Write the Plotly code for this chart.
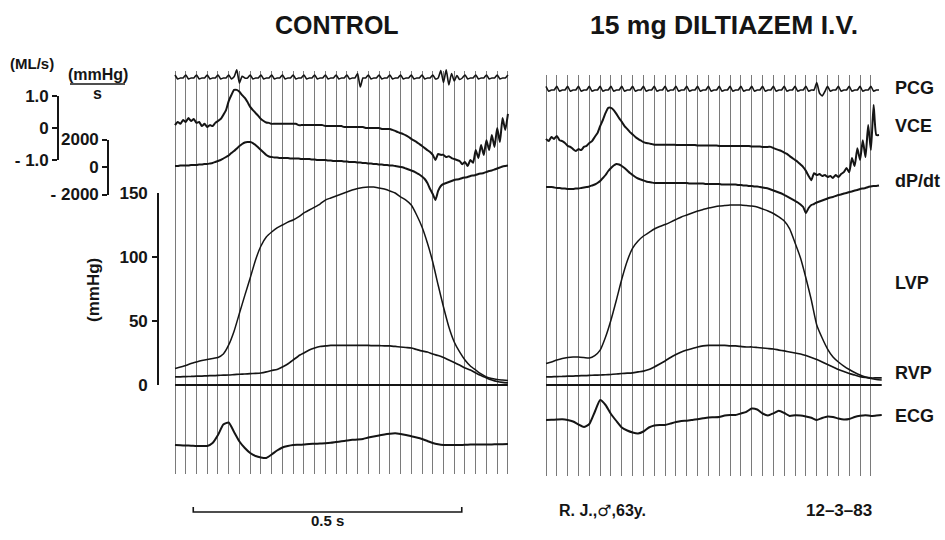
import numpy as np
import plotly.graph_objects as go

W, H = 945, 540

# ---------------- time bases (s) ----------------
t_fast_left = np.round(np.arange(125) * 0.005, 3)
t_fast_right = np.round(np.arange(124) * 0.005, 3)
t_slow = np.round(np.arange(63) * 0.01, 2)

# ---------------- CONTROL panel ----------------
ctrl_pcg = [1.0, -0.3, 0, 0, 1.0, -0.3, 0, 0, 1.0, -0.3, 0, 0, 1.0, -0.3, 0, 0, 1.0, -0.3, 0, 0,
            1.0, -0.3, 0.4, 2.7, -1.7, 0.6, 0, 0, 1.0, -0.3, 0, 0, 1.0, -0.3, 0, 0, 1.0, -0.3, 0, 0,
            1.0, -0.3, 0, 0, 1.0, -0.3, 0, 0, 1.0, -0.3, 0, 0, 1.0, -0.3, 0, 0, 1.0, -0.3, 0, 0,
            1.0, -0.3, 0, 0, 1.0, -0.3, 0, 0, 1.5, -3.0, 0, 0, 1.0, -0.3, 0, 0, 1.0, -0.3, 0, 0,
            1.0, -0.3, 0, 0, 1.0, -0.3, 0, 0, 1.0, -0.3, 0, 0, 1.0, -0.3, 0, 0, 1.0, -0.3, 0, 2.5,
            -1.5, 2.7, -2.3, 1.5, -1.0, 0.8, -0.5, 0, 1.0, -0.3, 0, 0, 1.0, -0.3, 0, 0, 1.0, -0.3, 0, 0,
            1.0, -0.3, 0, 0, 1.0]
ctrl_vce = [0.09, 0.19, 0.13, 0.25, 0.19, 0.31, 0.22, 0.28, 0.16, 0.19, 0.06, 0.13, 0.03, 0.09, 0.06, 0.16, 0.22, 0.28,
            0.41, 0.56, 0.84, 1.03, 1.19, 1.19, 1.13, 1.03, 0.94, 0.81, 0.66, 0.56, 0.47, 0.38, 0.28, 0.22, 0.17, 0.16,
            0.13, 0.13, 0.13, 0.13, 0.13, 0.13, 0.13, 0.13, 0.13, 0.13,
            0.09, 0.09, 0.09, 0.09, 0.09, 0.09, 0.09, 0.09, 0.09, 0.09,
            0.06, 0.06, 0.06, 0.06, 0.06, 0.06, 0.06,
            0.03, 0.03, 0.03, 0.03, 0.03, 0.03, 0.03, 0.03,
            0.0, 0.0, 0.0, 0.0, 0.0, 0.0,
            -0.03, -0.03, -0.03, -0.03,
            -0.06, -0.09, -0.13, -0.16, -0.19, -0.23, -0.28, -0.34, -0.39,
            -0.44, -0.5, -0.56, -0.63, -0.69, -0.75, -0.84, -1.0,
            -0.81, -0.84, -0.84, -0.91, -0.88, -0.94, -0.97, -1.0, -1.03, -1.13, -1.06, -1.19, -1.0, -1.09,
            -0.69, -0.94, -0.53, -0.84, -0.38, -0.69, -0.22, -0.59, 0.0, -0.44, 0.31, -0.06, 0.44]
ctrl_dpdt = [73, 73, 109, 109, 109, 109, 145, 145, 145, 182, 182, 218, 218, 254, 291, 364, 436, 509, 618, 727,
             836, 1018, 1163, 1345, 1527, 1672, 1781, 1818, 1818, 1745, 1599, 1418, 1236, 1054, 872, 763, 727, 691, 691, 654,
             654, 654, 654, 618, 618, 618, 618, 582, 582, 582, 582, 545, 545, 509, 509, 509, 509, 473, 473, 436,
             436, 436, 436, 400, 400, 364, 364, 364, 327, 327, 291, 291, 254, 254, 218, 218, 182, 182, 145, 145,
             109, 109, 73, 36, 0, -36, -109, -182, -254, -327, -436, -545, -691, -872, -1163, -1599, -1963, -2400, -1745, -1381,
             -1236, -1163, -1090, -1018, -945, -909, -872, -800, -763, -727, -654, -618, -582, -509, -473, -436, -364, -291, -254, -182,
             -109, -36, 36, 73, 109]
ctrl_lvp = [12.9, 14, 15.2, 16.8, 18, 19.1, 19.9, 20.7, 21.5, 24.2,
            31.3, 42, 56, 70, 83.6, 97.7, 108.6, 115.6, 119.5, 122.7,
            125, 127.3, 128.9, 131.3, 134.4, 136.7, 139, 141.4, 144.5, 146.1,
            147.7, 149.2, 150.8, 152.3, 153.5, 154.3, 154.7, 154.7, 153.9, 153.1,
            151.6, 150, 146.9, 144.5, 140.6, 132.8, 123.4, 110.9, 96.1, 78.1,
            60.9, 45.3, 33.6, 25.8, 19.5, 14.8, 11.7, 8.6, 6.3, 5.1,
            4.3, 3.9, 3.5]
ctrl_rvp = [6.3, 6.4, 6.6, 6.7, 6.9, 7.0, 7.2, 7.3, 7.5, 7.7, 7.8, 8.1, 8.4, 8.6, 8.9, 9.1, 9.4,
            10.2, 11.3, 12.1, 14.1, 16.4, 19.5, 22.7, 25, 27.3, 28.9, 30.1, 30.5, 30.9,
            30.9, 30.9, 30.9, 30.9, 30.9, 30.9, 30.9, 30.7, 30.7, 30.6, 30.5,
            30.1, 29.7, 29.3, 28.9, 27.7, 26.6, 25.8, 24.2, 23, 21.5, 19.5, 17.6, 15.6, 13.3, 11.7, 9.4, 7.4, 5.5, 3.9, 2.7, 2, 1.6]
ctrl_ecg = [0, -0.03, -0.05, -0.07, -0.1, -0.1, -0.1,
            0.2, 1.0, 2.05, 2.25, 1.3, 0.35, -0.3, -0.8, -1.1, -1.25, -1.3, -0.95, -0.55, -0.25, -0.1, 0,
            0.02, 0.05, 0.1, 0.12, 0.15, 0.17, 0.22, 0.3, 0.37, 0.45, 0.52, 0.55, 0.6, 0.75, 0.85, 0.95, 1.05, 1.12, 1.17,
            1.1, 1.0, 0.87, 0.75, 0.6, 0.4, 0.2, 0.07, 0,
            0, 0, 0, 0.02, 0.04, 0.05, 0.05, 0.05, 0.06, 0.07, 0.08, 0.1]

# ---------------- 15 mg DILTIAZEM panel ----------------
dilt_pcg = [-2.8, -4.4, -4, -4, -2.8, -4.4, -4, -4, -2.8, -4.4, -4, -4, -2.8, -4.4, -4, -4, -2.8, -4.4, -4, -4,
            -2.8, -4.4, -4, -4, -2.8, -4.4, -4, -4, -2.8, -4.4, -4, -4, -2.8, -4.4, -4, -4, -2.8, -4.4, -4, -4,
            -2.8, -4.4, -4, -4, -2.8, -4.4, -4, -4, -2.8, -4.4, -4, -4, -2.8, -4.4, -4, -4, -2.8, -4.4, -4, -4,
            -2.8, -4.4, -4, -4, -2.8, -4.4, -4, -4, -2.8, -4.4, -4, -4, -2.8, -4.4, -4, -4, -2.8, -4.4, -4, -4,
            -2.8, -4.4, -4, -4, -2.8, -4.4, -4, -4, -2.8, -4.4, -4, -4, -2.8, -4.4, -4, -4, -2.8, -4.4, -4, -4,
            -1.5, -5.0, -6.0, -4.5, -2.8, -4.4, -4, -4, -2.8, -4.4, -4, -4, -2.8, -4.4, -4, -4, -2.8, -4.4, -4, -4,
            -2.8, -4.4, -4, -4]
dilt_vce = [-0.34, -0.41, -0.28, -0.34, -0.25, -0.38, -0.41, -0.47, -0.56, -0.59, -0.66, -0.72, -0.66, -0.69, -0.59, -0.56, -0.47, -0.41, -0.28, -0.16,
            0.06, 0.25, 0.47, 0.63, 0.63, 0.56, 0.44, 0.31, 0.19, 0.06, -0.03, -0.13, -0.2, -0.28, -0.34, -0.39, -0.44, -0.47, -0.48, -0.5,
            -0.52, -0.52, -0.52, -0.52, -0.52, -0.52, -0.52, -0.52,
            -0.53, -0.53, -0.53, -0.53, -0.53, -0.53, -0.53, -0.53,
            -0.55, -0.55, -0.55, -0.55, -0.55, -0.55, -0.55, -0.55,
            -0.56, -0.56, -0.56, -0.56, -0.56, -0.56, -0.56, -0.56, -0.56, -0.56, -0.56, -0.56,
            -0.58, -0.58, -0.58, -0.58,
            -0.59, -0.59, -0.59, -0.59,
            -0.63, -0.66, -0.69, -0.72, -0.77, -0.81, -0.88, -0.94, -1.0, -1.06, -1.14, -1.22, -1.34, -1.5, -1.63,
            -1.41, -1.47, -1.44, -1.5, -1.47, -1.53, -1.5, -1.56, -1.47, -1.53, -1.44, -1.38, -1.25,
            -1.38, -0.94, -1.19, -0.63, -1.0, -0.38, -0.91, 0.09, -0.69, 0.72, -0.22, -0.22]
dilt_dpdt = [-1454, -1454, -1454, -1490, -1527, -1527, -1563, -1563, -1599, -1599, -1599, -1563, -1563, -1527, -1490, -1454, -1418, -1345, -1272, -1163,
             -1018, -800, -582, -291, -73, 109, 218, 182, 73, -73, -254, -436, -582, -727, -836, -909, -981, -1054, -1090, -1127,
             -1163, -1163, -1163, -1163, -1163, -1163, -1163, -1163, -1163, -1163, -1163, -1163, -1163,
             -1200, -1200, -1200, -1200, -1200, -1200,
             -1236, -1236, -1236, -1236, -1236, -1236,
             -1272, -1272, -1272, -1272, -1272, -1272,
             -1309, -1309, -1345, -1345, -1381, -1381, -1418, -1418, -1454, -1490, -1527, -1563,
             -1636, -1708, -1781, -1854, -1927, -2036, -2145, -2254, -2363, -2472, -2581, -2726, -2908,
             -3344,
             -2981, -2763, -2690, -2581, -2508, -2436, -2363, -2290, -2217, -2181, -2108, -2036, -2000, -1927, -1890, -1818, -1781, -1708, -1672, -1599,
             -1563, -1527, -1454, -1418, -1381, -1381, -1345]
dilt_lvp = [16.8, 18, 19.5, 20.7, 21.5, 21.9, 21.9, 21.5, 21.1, 23,
            27.3, 37.5, 50.8, 66.4, 82.8, 96.9, 107, 112.5, 116.4, 119.1,
            121.9, 123.8, 125.4, 127.3, 129.3, 131.3, 132.8, 134.4, 135.9, 137.1,
            138.3, 139.1, 139.8, 140.2, 140.6, 140.6, 140.6, 140.2, 139.8, 139.1,
            137.5, 135.9, 134, 131.3, 128.1, 121.9, 110.9, 99.2, 83.6, 66.4,
            46.9, 36.7, 28.1, 21.9, 18, 14.8, 12.1, 9.8, 7.8, 6.3,
            5.1, 4.3, 3.9]
dilt_rvp = [6.3, 6.4, 6.6, 6.7, 6.9, 7, 7.2, 7.3, 7.5, 7.7, 7.8, 8, 8.2, 8.6, 9, 9.2, 9.5, 10.2, 10.9,
            12.1, 14.1, 16.4, 18.8, 21.5, 23.8, 25.8, 27.3, 28.5, 29.7, 30.5, 30.9,
            30.9, 30.9, 30.9, 30.5, 30.5, 30.1, 29.7, 29.7, 29.3, 28.9, 28.5, 28.1, 27.3, 26.6, 25.8,
            25, 24.2, 23, 21.5, 19.9, 18, 16, 14.1, 12.1, 10.5, 9, 7.8, 6.6, 5.9, 5.5, 5.5, 5.5]
dilt_ecg = [2.5, 2.52, 2.55, 2.57, 2.5, 2.35, 2.05, 1.8, 2.1, 3.3,
            4.5, 4.0, 3.1, 2.4, 1.75, 1.45, 1.25, 1.15, 1.35, 1.75,
            1.95, 2.0, 2.0, 2.15, 2.3, 2.4, 2.43, 2.5, 2.58, 2.67,
            2.75, 2.77, 2.8, 2.95, 3.0, 3.0, 3.15, 3.32, 3.65, 3.55,
            3.15, 2.95, 3.17, 3.42, 3.2, 2.9, 2.98, 2.95, 2.85, 2.72,
            2.5, 2.7, 2.85, 2.8, 2.65, 2.55, 2.6, 2.8, 2.92, 2.98,
            2.9, 2.95, 3.0]

zero_line = [0, 0]

# axis tick labels
vce_ticks = [-1.0, 0, 1.0]
vce_ticktext = ["- 1.0", "0", "1.0"]
dpdt_ticks = [-2000, 0, 2000]
dpdt_ticktext = ["- 2000", "0", "2000"]
press_ticks = [0, 50, 100, 150]
press_ticktext = ["0", "50", "100", "150"]
channel_labels = ["PCG", "VCE", "dP/dt", "LVP", "RVP", "ECG"]
scale_bar_s = 0.5
scale_bar_start = 0.034

# ---------------- geometry helpers (pixels -> paper) ----------------
def xdom(l, r):
    return [l / W, r / W]

def ydom(top, bot):
    return [1 - bot / H, 1 - top / H]

def xrng(l, r, t0px, pps):
    return [(l - t0px) / pps, (r - t0px) / pps]

def yrng(top, bot, zero_px, ppu):
    return [(zero_px - bot) / ppu, (zero_px - top) / ppu]

L_T0, L_PPS = 175.0, 537.0
R_T0, R_PPS = 546.0, 541.5
CAL = {
    "pcg": (78.0, 3.0),
    "vce": (128.0, 32.0),
    "dpdt": (167.0, 27.5 / 2000.0),
    "press": (385.0, 1.28),
    "ecg": (445.0, 10.0),
}
BOLD = "Liberation Sans, Arial, Helvetica, sans-serif"
INK = "#151515"

fig = go.Figure()

def dummy(xa, ya):
    fig.add_trace(go.Scatter(x=[None], y=[None], xaxis=xa, yaxis=ya, mode="lines",
                             showlegend=False, hoverinfo="skip"))

dummy("x", "y")
dummy("x2", "y2")

def line(t, v, xa, ya, w=1.9):
    fig.add_trace(go.Scatter(x=t, y=v, xaxis=xa, yaxis=ya, mode="lines",
                             line=dict(color=INK, width=w, shape="spline", smoothing=0.5),
                             showlegend=False, hoverinfo="skip"))

for xa, tf, pcg, vce, dpdt, lvp, rvp, ecg in [
    ("x3", t_fast_left, ctrl_pcg, ctrl_vce, ctrl_dpdt, ctrl_lvp, ctrl_rvp, ctrl_ecg),
    ("x4", t_fast_right, dilt_pcg, dilt_vce, dilt_dpdt, dilt_lvp, dilt_rvp, dilt_ecg),
]:
    line(tf, pcg, xa, "y3", 1.6)
    line(tf, vce, xa, "y4", 2.0)
    line(tf, dpdt, xa, "y5", 2.0)
    line(t_slow, lvp, xa, "y6", 1.5)
    line(t_slow, rvp, xa, "y6", 1.7)
    line([t_slow[0], t_slow[-1]], zero_line, xa, "y6", 2.0)
    line(t_slow, ecg, xa, "y7", 2.0)

for ya in ["y8", "y9", "y10", "y11", "y12"]:
    dummy("x5", ya)

hidden = dict(visible=False, fixedrange=True, automargin=False)
grid_x = dict(showgrid=True, gridcolor="#7a7a7a", gridwidth=1, tickmode="linear", tick0=0, dtick=0.02,
              showticklabels=False, ticks="", zeroline=False, showline=False, fixedrange=True, automargin=False)

layout = dict(
    width=W, height=H, autosize=False,
    margin=dict(l=0, r=0, t=0, b=0, pad=0, autoexpand=False),
    paper_bgcolor="white", plot_bgcolor="rgba(0,0,0,0)", showlegend=False,
    xaxis=dict(grid_x, domain=xdom(168, 512), range=xrng(168, 512, L_T0, L_PPS), anchor="y"),
    xaxis2=dict(grid_x, domain=xdom(541, 876), range=xrng(541, 876, R_T0, R_PPS), anchor="y2"),
    xaxis3=dict(hidden, domain=xdom(160, 520), range=xrng(160, 520, L_T0, L_PPS), anchor="y3"),
    xaxis4=dict(hidden, domain=xdom(535, 892), range=xrng(535, 892, R_T0, R_PPS), anchor="y3"),
    xaxis5=dict(hidden, domain=[0, 0.02], range=[0, 1], anchor="y8"),
    yaxis=dict(hidden, domain=ydom(71, 474), range=[0, 1], anchor="x"),
    yaxis2=dict(hidden, domain=ydom(75, 476), range=[0, 1], anchor="x2"),
    yaxis3=dict(hidden, domain=ydom(55, 105), range=yrng(55, 105, *CAL["pcg"]), anchor="x3"),
    yaxis4=dict(hidden, domain=ydom(80, 190), range=yrng(80, 190, *CAL["vce"]), anchor="x3"),
    yaxis5=dict(hidden, domain=ydom(125, 225), range=yrng(125, 225, *CAL["dpdt"]), anchor="x3"),
    yaxis6=dict(hidden, domain=ydom(170, 396), range=yrng(170, 396, *CAL["press"]), anchor="x3"),
    yaxis7=dict(hidden, domain=ydom(392, 472), range=yrng(392, 472, *CAL["ecg"]), anchor="x3"),
)

axis_font = dict(family=BOLD, size=17, color=INK, weight="bold")

def bracket(zero_px, ppu, lo, hi):
    top = zero_px - hi * ppu
    bot = zero_px - lo * ppu
    return ydom(top, bot)

vz, vp = CAL["vce"]
dz, dp = CAL["dpdt"]
pz, pp = CAL["press"]
common = dict(anchor="free", side="left", showgrid=False, zeroline=False, fixedrange=True, automargin=False,
              tickmode="array", tickcolor=INK, tickwidth=1.6, linecolor=INK, linewidth=1.6)
layout["yaxis8"] = dict(common, domain=bracket(vz, vp, -1.0, 1.0), range=[-1.0, 1.0], position=58 / W,
                        showline=True, ticks="outside", ticklen=5,
                        tickvals=vce_ticks, ticktext=vce_ticktext, tickfont=axis_font)
layout["yaxis9"] = dict(common, domain=bracket(dz, dp, -2000, 2000), range=[-2000, 2000], position=108 / W,
                        showline=True, ticks="outside", ticklen=5,
                        tickvals=dpdt_ticks, ticktext=dpdt_ticktext, tickfont=axis_font)
pdom = bracket(pz, pp, 0, 150)
layout["yaxis10"] = dict(common, domain=pdom, range=[0, 150], position=158 / W,
                         showline=True, ticks="outside", ticklen=5,
                         tickvals=press_ticks[1:3], showticklabels=False)
layout["yaxis11"] = dict(common, domain=pdom, range=[0, 150], position=158 / W,
                         showline=True, ticks="inside", ticklen=6,
                         tickvals=[press_ticks[0], press_ticks[-1]], showticklabels=False)
layout["yaxis12"] = dict(common, domain=pdom, range=[0, 150], position=158 / W,
                         showline=True, ticks="", tickvals=press_ticks, ticktext=press_ticktext,
                         tickfont=axis_font, ticklabelstandoff=6)

fig.update_layout(**layout)

def ann(text, x, y, size, xanchor="center", angle=0):
    fig.add_annotation(text=text, x=x / W, y=1 - y / H, xref="paper", yref="paper",
                       showarrow=False, xanchor=xanchor, yanchor="middle", textangle=angle,
                       font=dict(family=BOLD, size=size, color=INK, weight="bold"))

ann("CONTROL", 337, 25, 25)
ann("15 mg DILTIAZEM I.V.", 724, 25, 26.5)
label_y = [88, 126, 181, 283, 373, 416]
for lab, yy in zip(channel_labels, label_y):
    ann(lab, 893, yy, 18, xanchor="left")
ann("(ML/s)", 8, 63, 15, xanchor="left")
ann("(mmHg)", 98, 74, 16)
ann("s", 97, 93, 16)
fig.add_shape(type="line", xref="paper", yref="paper", x0=70 / W, x1=125 / W, y0=1 - 84 / H, y1=1 - 84 / H,
              line=dict(color=INK, width=1.6))
ann("(mmHg)", 93, 290, 17, angle=-90)
ann("R. J.,<span style='font-family:DejaVu Sans'>\u2642</span>,63y.", 557, 510, 16, xanchor="left")
ann("12\u20133\u201383", 839, 510, 17)

bx0 = scale_bar_start
bx1 = scale_bar_start + scale_bar_s
ybar = 1 - 512 / H
yhook = 1 - 507 / H
fig.add_shape(type="path", xref="x3", yref="paper",
              path=f"M {bx0},{yhook} L {bx0},{ybar} L {bx1},{ybar} L {bx1},{yhook}",
              line=dict(color=INK, width=1.6))
fig.add_annotation(text="0.5 s", x=(bx0 + bx1) / 2, xref="x3", y=1 - 531 / H, yref="paper", showarrow=False,
                   font=dict(family=BOLD, size=15, color=INK, weight="bold"))

fig.write_html("out.html", config={"displayModeBar": False})
